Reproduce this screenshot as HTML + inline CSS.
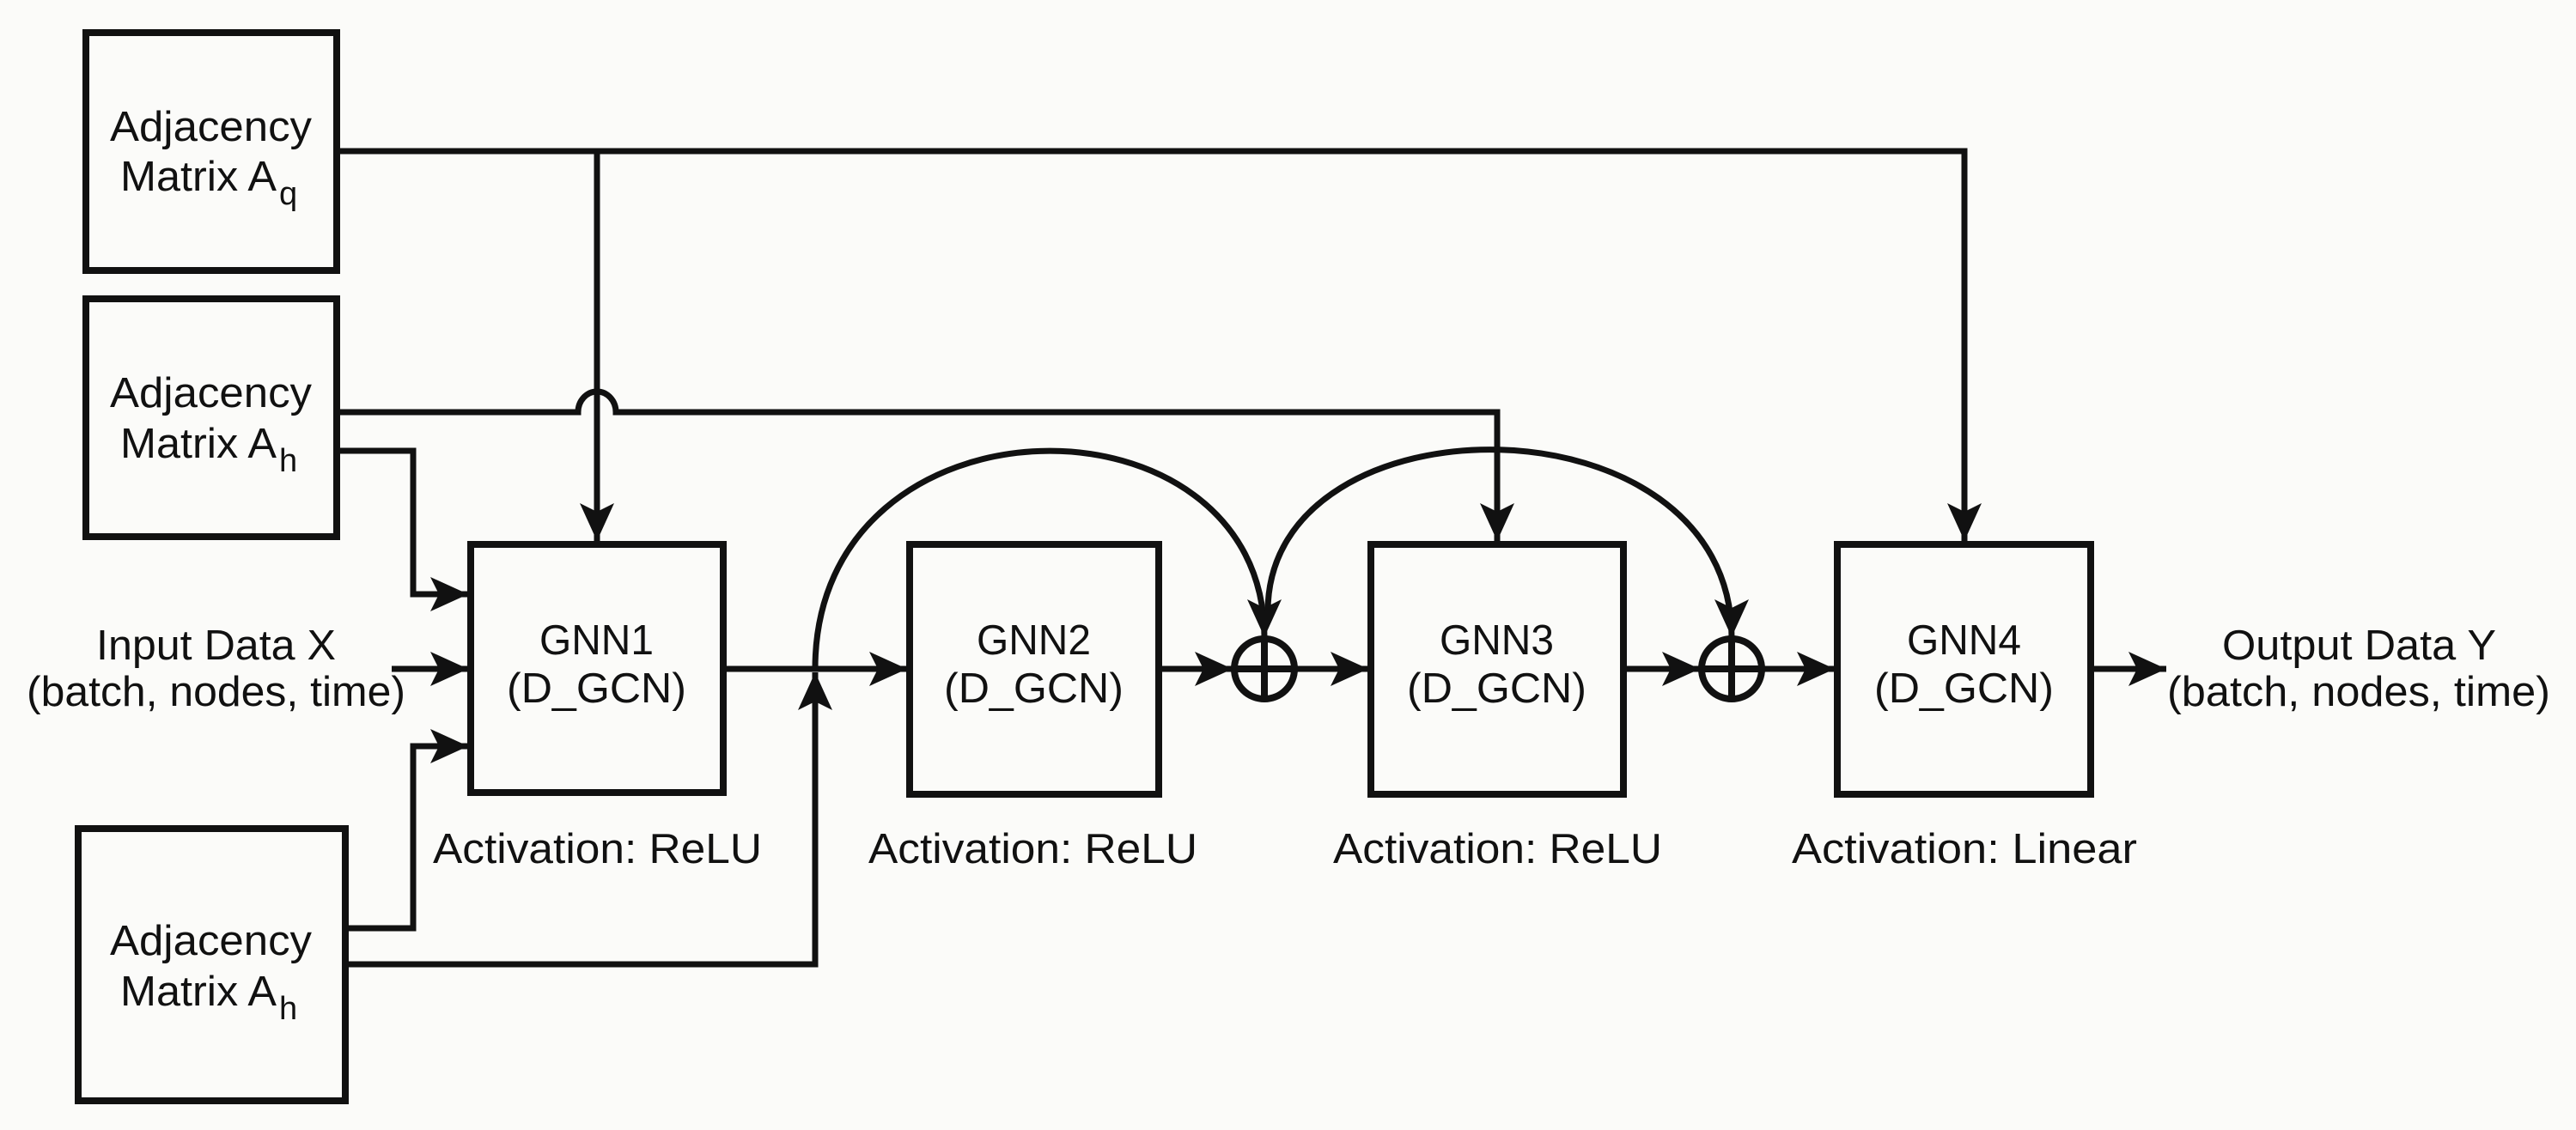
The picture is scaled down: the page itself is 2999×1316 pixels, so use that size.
<!DOCTYPE html>
<html><head><meta charset="utf-8"><style>html,body{margin:0;padding:0;background:#fbfbf9}svg{display:block}</style></head>
<body>
<svg width="2999" height="1316" viewBox="0 0 2999 1316" xmlns="http://www.w3.org/2000/svg">
<defs>
<marker id="a" markerUnits="userSpaceOnUse" markerWidth="50" markerHeight="44" refX="44" refY="20" orient="auto">
<path d="M0,0 L44,20 L0,40 L10,20 z" fill="#111"/>
</marker>
</defs>
<rect width="2999" height="1316" fill="#fbfbf9"/>
<g fill="none" stroke="#111" stroke-width="8">
<rect x="100" y="38" width="292" height="277"/>
<rect x="100" y="348" width="292" height="277"/>
<rect x="91" y="965" width="311" height="317"/>
<rect x="548" y="634" width="294" height="289"/>
<rect x="1059" y="634" width="290" height="291"/>
<rect x="1596" y="634" width="294" height="291"/>
<rect x="2139" y="634" width="295" height="291"/>
<circle cx="1472" cy="779" r="35"/>
<circle cx="2016" cy="779" r="35"/>
<line x1="1437" y1="779" x2="1507" y2="779"/><line x1="1472" y1="744" x2="1472" y2="814"/>
<line x1="1981" y1="779" x2="2051" y2="779"/><line x1="2016" y1="744" x2="2016" y2="814"/>
</g>
<g fill="none" stroke="#111" stroke-width="7">
<path d="M392,176 H2287 V630" marker-end="url(#a)"/>
<path d="M695,176 V630" marker-end="url(#a)"/>
<path d="M392,480 H673 A22,24 0 0 1 717,480 H1743 V630" marker-end="url(#a)"/>
<path d="M392,525 H481 V692 H545" marker-end="url(#a)"/>
<path d="M456,779 H545" marker-end="url(#a)"/>
<path d="M402,1081 H481 V869 H545" marker-end="url(#a)"/>
<path d="M402,1123 H949 V783" marker-end="url(#a)"/>
<path d="M842,779 H1056" marker-end="url(#a)"/>
<path d="M1349,779 H1435" marker-end="url(#a)"/>
<path d="M1507,779 H1593" marker-end="url(#a)"/>
<path d="M1890,779 H1979" marker-end="url(#a)"/>
<path d="M2051,779 H2136" marker-end="url(#a)"/>
<path d="M2434,779 H2522" marker-end="url(#a)"/>
<path d="M949,779 C949,447 1472,447 1472,742" marker-end="url(#a)"/>
<path d="M1476,712 C1476,456 2016,456 2016,742" marker-end="url(#a)"/>
</g>
<g font-family="Liberation Sans, Arial, sans-serif" font-size="49" fill="#111">
<text x="128" y="164" textLength="235" lengthAdjust="spacingAndGlyphs">Adjacency</text>
<text x="140" y="222" textLength="182" lengthAdjust="spacingAndGlyphs">Matrix A</text>
<text x="325" y="238" font-size="38">q</text>
<text x="128" y="474" textLength="235" lengthAdjust="spacingAndGlyphs">Adjacency</text>
<text x="140" y="533" textLength="182" lengthAdjust="spacingAndGlyphs">Matrix A</text>
<text x="325" y="549" font-size="38">h</text>
<text x="128" y="1112" textLength="235" lengthAdjust="spacingAndGlyphs">Adjacency</text>
<text x="140" y="1171" textLength="182" lengthAdjust="spacingAndGlyphs">Matrix A</text>
<text x="325" y="1187" font-size="38">h</text>
<text x="112" y="768" textLength="279" lengthAdjust="spacingAndGlyphs">Input Data X</text>
<text x="31" y="822" textLength="441" lengthAdjust="spacingAndGlyphs">(batch, nodes, time)</text>
<text x="2587" y="768" textLength="319" lengthAdjust="spacingAndGlyphs">Output Data Y</text>
<text x="2523" y="822" textLength="446" lengthAdjust="spacingAndGlyphs">(batch, nodes, time)</text>
<text x="628" y="762" textLength="133" lengthAdjust="spacingAndGlyphs">GNN1</text>
<text x="590" y="818" textLength="209" lengthAdjust="spacingAndGlyphs">(D_GCN)</text>
<text x="1137" y="762" textLength="133" lengthAdjust="spacingAndGlyphs">GNN2</text>
<text x="1099" y="818" textLength="209" lengthAdjust="spacingAndGlyphs">(D_GCN)</text>
<text x="1676" y="762" textLength="133" lengthAdjust="spacingAndGlyphs">GNN3</text>
<text x="1638" y="818" textLength="209" lengthAdjust="spacingAndGlyphs">(D_GCN)</text>
<text x="2220" y="762" textLength="133" lengthAdjust="spacingAndGlyphs">GNN4</text>
<text x="2182" y="818" textLength="209" lengthAdjust="spacingAndGlyphs">(D_GCN)</text>
<text x="504" y="1005" textLength="383" lengthAdjust="spacingAndGlyphs">Activation: ReLU</text>
<text x="1011" y="1005" textLength="383" lengthAdjust="spacingAndGlyphs">Activation: ReLU</text>
<text x="1552" y="1005" textLength="383" lengthAdjust="spacingAndGlyphs">Activation: ReLU</text>
<text x="2086" y="1005" textLength="402" lengthAdjust="spacingAndGlyphs">Activation: Linear</text>
</g>
</svg>
</body></html>
